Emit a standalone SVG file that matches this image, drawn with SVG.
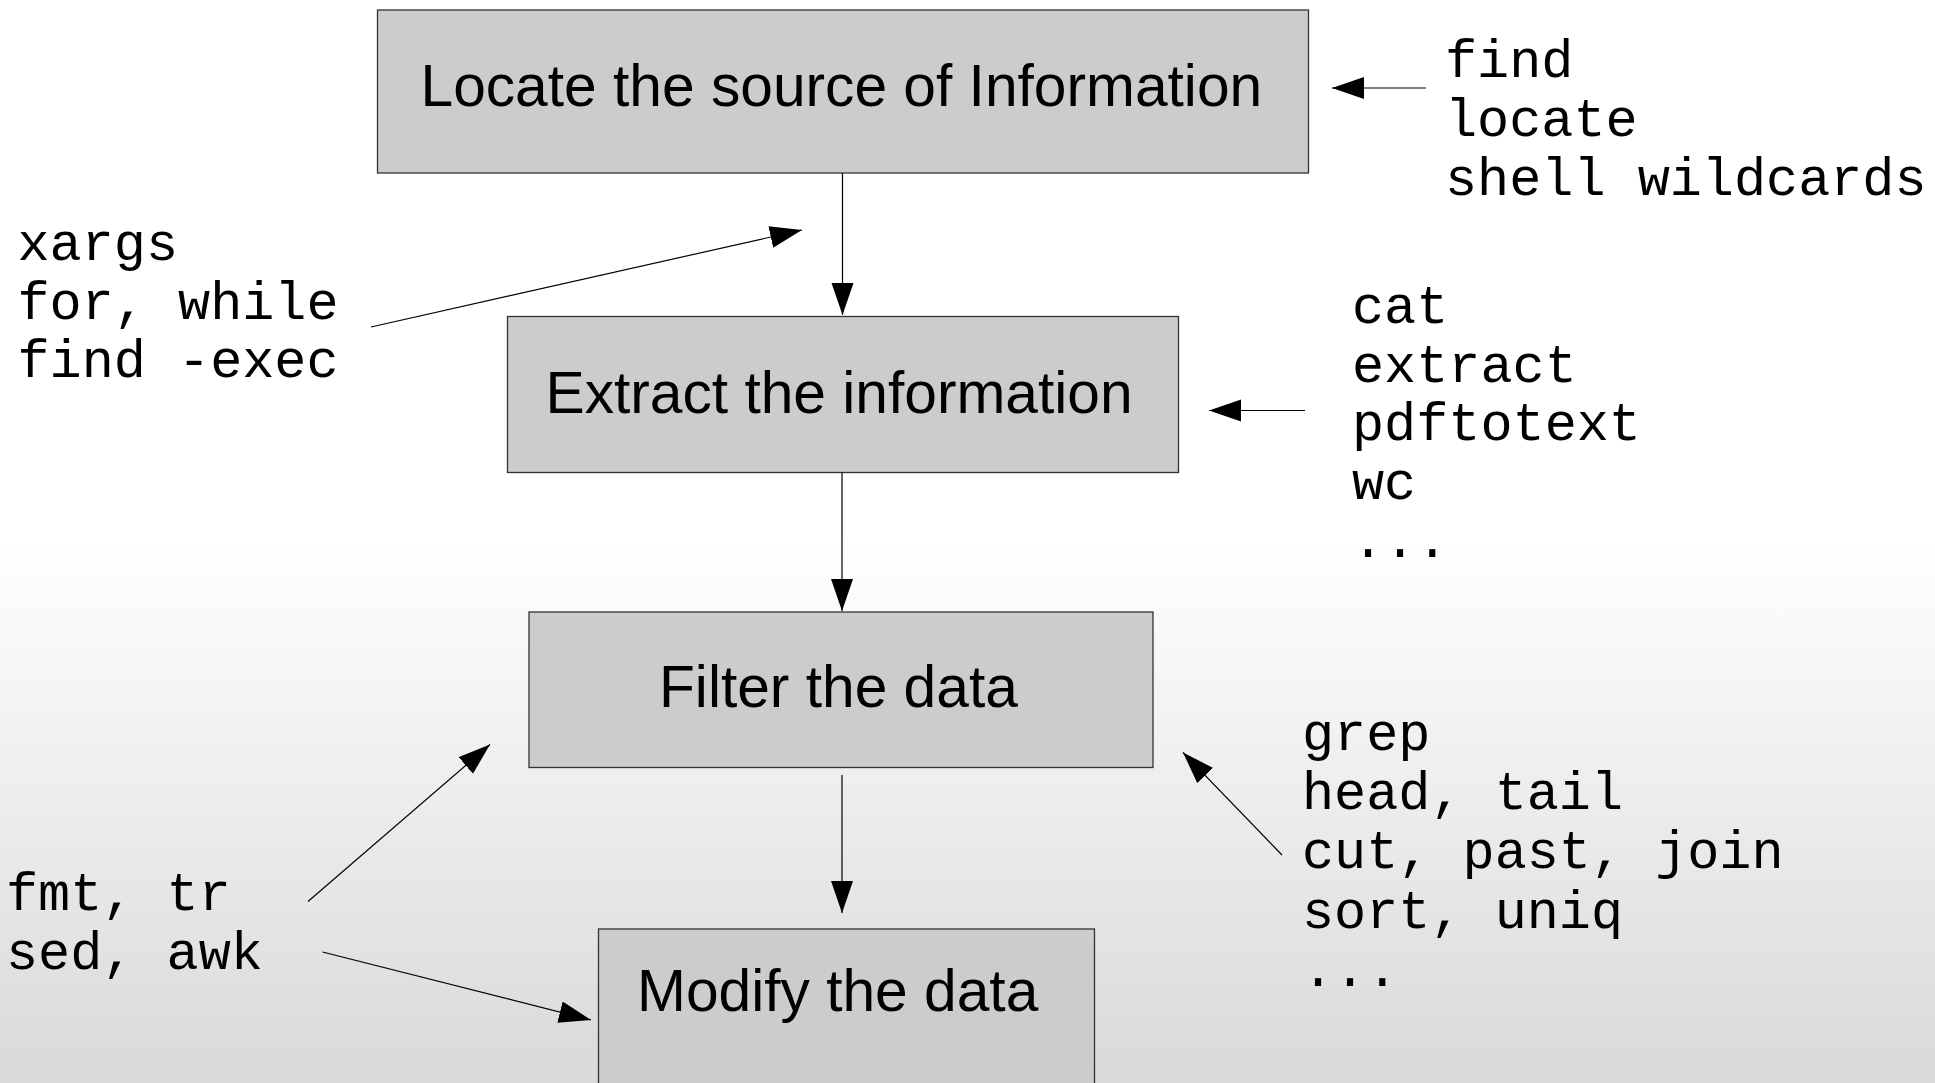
<svg xmlns="http://www.w3.org/2000/svg" width="1935" height="1083" viewBox="0 0 1935 1083">
<defs>
<linearGradient id="bg" gradientUnits="userSpaceOnUse" x1="0" y1="541" x2="0" y2="1083">
<stop offset="0" stop-color="#ffffff"/>
<stop offset="1" stop-color="#d9d9d9"/>
</linearGradient>
<marker id="ah" markerUnits="userSpaceOnUse" markerWidth="33" markerHeight="23" refX="32" refY="11" orient="auto">
<path d="M0,0 L32,11 L0,22 z" fill="#000"/>
</marker>
<style>
.box{fill:#cccccc;stroke:#333333;stroke-width:1.3}
.lbl{font-family:"Liberation Sans",Arial,sans-serif;font-size:58.7px;fill:#000}
.mono{font-family:"Liberation Mono","Courier New",monospace;font-size:53.5px;fill:#000}
.con{stroke:#000;stroke-width:1.2;fill:none;marker-end:url(#ah)}
</style>
</defs>
<rect x="0" y="0" width="1935" height="1083" fill="url(#bg)"/>

<g id="node-locate">
<rect class="box" x="377.5" y="10" width="931" height="163"/>
<text class="lbl" x="420.5" y="106">Locate the source of Information</text>
</g>
<g id="node-extract">
<rect class="box" x="507.5" y="316.5" width="671" height="156"/>
<text class="lbl" x="545.5" y="412.5">Extract the information</text>
</g>
<g id="node-filter">
<rect class="box" x="529" y="612" width="624" height="155.5"/>
<text class="lbl" x="659" y="707">Filter the data</text>
</g>
<g id="node-modify">
<rect class="box" x="598.5" y="929" width="496" height="200"/>
<text class="lbl" x="637" y="1010.5">Modify the data</text>
</g>

<g id="tools-locate">
<text class="mono" x="1445" y="77">find</text>
<text class="mono" x="1445" y="136">locate</text>
<text class="mono" x="1445" y="194.5">shell wildcards</text>
</g>
<g id="tools-loop">
<text class="mono" x="17.5" y="260">xargs</text>
<text class="mono" x="17.5" y="318.5">for, while</text>
<text class="mono" x="17.5" y="377">find -exec</text>
</g>
<g id="tools-extract">
<text class="mono" x="1352" y="323">cat</text>
<text class="mono" x="1352" y="381.5">extract</text>
<text class="mono" x="1352" y="440">pdftotext</text>
<text class="mono" x="1352" y="498.5">wc</text>
<text class="mono" x="1352" y="557">...</text>
</g>
<g id="tools-filter">
<text class="mono" x="1302" y="750">grep</text>
<text class="mono" x="1302" y="809">head, tail</text>
<text class="mono" x="1302" y="868">cut, past, join</text>
<text class="mono" x="1302" y="927.5">sort, uniq</text>
<text class="mono" x="1302" y="986">...</text>
</g>
<g id="tools-modify">
<text class="mono" x="6" y="910">fmt, tr</text>
<text class="mono" x="6" y="969">sed, awk</text>
</g>

<g id="connectors">
<line class="con" x1="842.5" y1="173" x2="842.5" y2="315"/>
<line class="con" x1="842" y1="472.5" x2="842" y2="611"/>
<line class="con" x1="842" y1="775" x2="842" y2="913"/>
<line class="con" x1="1426" y1="88" x2="1332" y2="88"/>
<line class="con" x1="1305" y1="410.5" x2="1209" y2="410.5"/>
<line class="con" x1="371" y1="327" x2="802" y2="230"/>
<line class="con" x1="1282" y1="855" x2="1183" y2="752.5"/>
<line class="con" x1="308" y1="901.5" x2="490" y2="744.5"/>
<line class="con" x1="322.5" y1="952" x2="591" y2="1020"/>
</g>
</svg>
